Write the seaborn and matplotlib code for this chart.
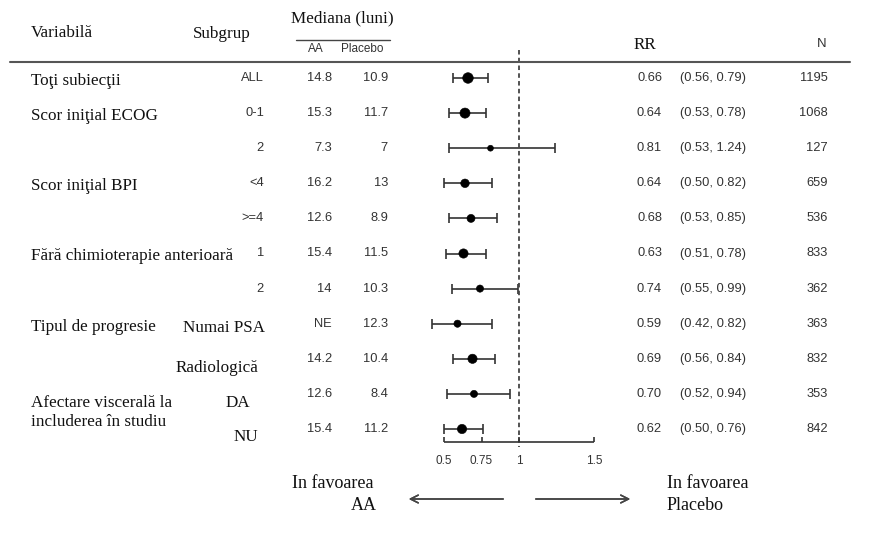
#forest plot - rezultate pe subgrupuri (RR, AA vs Placebo)

#import packages
import pandas as pd
import numpy as np
from matplotlib import pyplot as plt
from matplotlib.transforms import blended_transform_factory
import seaborn as sns

#data
variables = ["Toţi subiecţii", "Scor iniţial ECOG", "", "Scor iniţial BPI", "",
             "Fără chimioterapie anterioară", "", "Tipul de progresie", "",
             "Afectare viscerală la\nincluderea în studiu", ""]
subgroups = ["ALL", "0-1", "2", "<4", ">=4", "1", "2", "Numai PSA", "Radiologică", "DA", "NU"]
median_aa = ["14.8", "15.3", "7.3", "16.2", "12.6", "15.4", "14", "NE", "14.2", "12.6", "15.4"]
median_placebo = ["10.9", "11.7", "7", "13", "8.9", "11.5", "10.3", "12.3", "10.4", "8.4", "11.2"]
rr = [0.66, 0.64, 0.81, 0.64, 0.68, 0.63, 0.74, 0.59, 0.69, 0.70, 0.62]
ci_low = [0.56, 0.53, 0.53, 0.50, 0.53, 0.51, 0.55, 0.42, 0.56, 0.52, 0.50]
ci_high = [0.79, 0.78, 1.24, 0.82, 0.85, 0.78, 0.99, 0.82, 0.84, 0.94, 0.76]
n_subj = [1195, 1068, 127, 659, 536, 833, 362, 363, 832, 353, 842]
x_ticks = [0.5, 0.75, 1, 1.5]

df = pd.DataFrame({'var': variables, 'sub': subgroups, 'aa': median_aa, 'pl': median_placebo,
                   'rr': rr, 'lo': ci_low, 'hi': ci_high, 'n': n_subj})
df['row'] = np.arange(len(df))

sns.set_style("white")
SERIF = 'Liberation Serif'
SANS = 'Liberation Sans'
plt.rcParams['font.family'] = [SANS, 'DejaVu Sans']

W, H = 877, 541
fig = plt.figure(figsize=(W / 100, H / 100), dpi=100)
ax = fig.add_axes([0, 0, 1, 1])
# scale: 0.5 -> 444 px, 150 px per unit ; row 0 -> 78 px, 35.1 px per row
ax.set_xlim(0.5 - 444 / 150, 0.5 + (W - 444) / 150)
ax.set_ylim((H - 78) / 35.1, -78 / 35.1)
ax.axis('off')

fx = lambda px: px / W
fy = lambda py: 1 - py / H
tr = blended_transform_factory(fig.transFigure, ax.transData)

#confidence intervals + points
ax.errorbar(df['rr'], df['row'], xerr=[df['rr'] - df['lo'], df['hi'] - df['rr']],
            fmt='none', ecolor='#333333', elinewidth=1.2, capsize=3.3, capthick=1.2, zorder=2)
sns.scatterplot(data=df, x='rr', y='row', size='n', sizes=(18, 58), size_norm=(127, 1195),
                color='black', edgecolor='black', legend=False, ax=ax, zorder=3)

#reference line at 1
ax.vlines(1, -0.8, len(df) - 0.5, colors='#444444', linestyles=(0, (2.5, 1.8)), linewidth=1.3)

#x axis drawn by hand at the bottom
axis_row = len(df) - 1 + 0.37
ax.hlines(axis_row, min(x_ticks), max(x_ticks), colors='#333333', linewidth=1.2)
ax.vlines(x_ticks, axis_row - 0.13, axis_row, colors='#333333', linewidth=1.2)
for t in x_ticks:
    ax.text(t, axis_row + 0.55, f'{t:g}', ha='center', va='center', fontsize=8.5,
            family=SANS, color='#333333')

#header
hdr = dict(family=SERIF, fontsize=12.3, color='#111111', va='center')
fig.text(fx(31), fy(33), 'Variabilă', ha='left', **hdr)
fig.text(fx(193), fy(34), 'Subgrup', ha='left', **hdr)
fig.text(fx(342), fy(18), 'Mediana (luni)', ha='center', **hdr)
fig.text(fx(634), fy(45), 'RR', ha='left', **hdr)
fig.text(fx(827), fy(44), 'N', ha='right', family=SANS, fontsize=9.5, color='#333333', va='center')
fig.add_artist(plt.Line2D([fx(296), fx(390)], [fy(40), fy(40)], color='#444444', lw=1.0))
fig.text(fx(316), fy(49), 'AA', ha='center', va='center', family=SANS, fontsize=8.5, color='#333333')
fig.text(fx(362), fy(49), 'Placebo', ha='center', va='center', family=SANS, fontsize=8.5, color='#333333')
fig.add_artist(plt.Line2D([fx(10), fx(850)], [fy(62), fy(62)], color='#555555', lw=1.5))

#table columns
serif_sub = {'Numai PSA': (265, 0.12), 'Radiologică': (258, 0.25), 'DA': (250, 0.25), 'NU': (258, 0.24)}
num = dict(family=SANS, fontsize=9.3, color='#333333', va='center')
for _, r in df.iterrows():
    y = r['row']
    if r['var']:
        off = 0.54 if '\n' in r['var'] else 0.08
        ax.text(fx(31), y + off, r['var'], transform=tr, ha='left', va='center',
                family=SERIF, fontsize=12.3, color='#111111', linespacing=1.25)
    if r['sub'] in serif_sub:
        px, off = serif_sub[r['sub']]
        ax.text(fx(px), y + off, r['sub'], transform=tr, ha='right', va='center',
                family=SERIF, fontsize=12.3, color='#111111')
    else:
        ax.text(fx(264), y, r['sub'], transform=tr, ha='right', **num)
    ax.text(fx(332), y, r['aa'], transform=tr, ha='right', **num)
    ax.text(fx(388), y, r['pl'], transform=tr, ha='right', **num)
    ax.text(fx(662), y, f"{r['rr']:.2f}", transform=tr, ha='right', **num)
    ax.text(fx(680), y, f"({r['lo']:.2f}, {r['hi']:.2f})", transform=tr, ha='left', **num)
    ax.text(fx(828), y, f"{r['n']}", transform=tr, ha='right', **num)

#bottom labels and arrows
bot = dict(hdr, fontsize=13)
fig.text(fx(292), fy(484), 'In favoarea', ha='left', **bot)
fig.text(fx(377), fy(506), 'AA', ha='right', **bot)
fig.text(fx(667), fy(484), 'In favoarea', ha='left', **bot)
fig.text(fx(667), fy(506), 'Placebo', ha='left', **bot)
arr = dict(arrowstyle='->', color='#444444', lw=1.1, mutation_scale=14)
fig.add_artist(plt.annotate('', xy=(fx(406), fy(499)), xytext=(fx(506), fy(499)),
                            xycoords='figure fraction', arrowprops=arr))
fig.add_artist(plt.annotate('', xy=(fx(633), fy(499)), xytext=(fx(533), fy(499)),
                            xycoords='figure fraction', arrowprops=arr))

fig.savefig('out.png', dpi=100)
